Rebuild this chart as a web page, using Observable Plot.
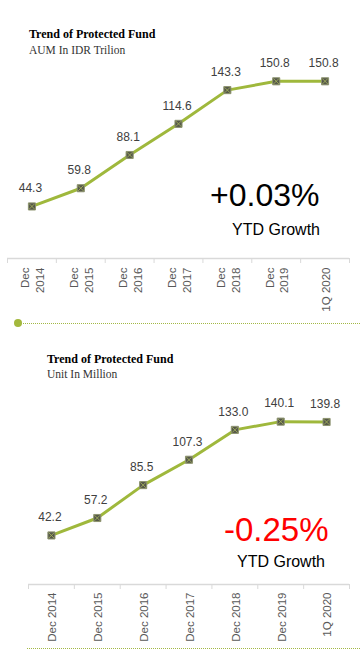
<!DOCTYPE html>
<html><head><meta charset="utf-8">
<script src="https://cdn.jsdelivr.net/npm/d3@7"></script>
<script src="https://cdn.jsdelivr.net/npm/@observablehq/plot@0.6"></script>
<style>
body{margin:0;background:#fff;}
#wrap{position:relative;width:360px;height:650px;overflow:hidden;font-family:"Liberation Sans",Arial,sans-serif;}
.t{position:absolute;white-space:nowrap;line-height:1;}
.title{font-family:"Liberation Serif",serif;font-weight:bold;font-size:12px;color:#000;}
.sub{font-family:"Liberation Serif",serif;font-size:11.5px;color:#333;}
.big{font-family:"Liberation Sans",Arial,sans-serif;}
.ytd{font-family:"Liberation Sans",Arial,sans-serif;font-size:16px;color:#000;}
.plot{position:absolute;left:0;}
.dotline{position:absolute;height:0;border-top:1px dotted #a3b845;}
.gdot{position:absolute;width:8px;height:8px;border-radius:50%;background:#a3b83c;}
</style>
</head><body>
<div id="wrap">
  <div class="t title" style="left:29px;top:28px;">Trend of Protected Fund</div>
  <div class="t sub" style="left:29px;top:45px;">AUM In IDR Trilion</div>
  <div class="t big" style="left:210px;top:179px;font-size:32px;color:#000;">+0.03%</div>
  <div class="t ytd" style="left:232px;top:222px;">YTD Growth</div>
  <div class="gdot" style="left:14px;top:319px;"></div>
  <div class="dotline" style="left:18px;top:323px;width:342px;"></div>

  <div class="t title" style="left:47px;top:353px;">Trend of Protected Fund</div>
  <div class="t sub" style="left:47px;top:369px;">Unit In Million</div>
  <div class="t big" style="left:224px;top:513px;font-size:33px;color:#ff0000;">-0.25%</div>
  <div class="t ytd" style="left:237px;top:554px;">YTD Growth</div>
  <div class="dotline" style="left:27px;top:648px;width:333px;"></div>
</div>
<script>
// ---- data ----
const periods = ["Dec 2014","Dec 2015","Dec 2016","Dec 2017","Dec 2018","Dec 2019","1Q 2020"];
const tickLabelsAUM = ["Dec\n2014","Dec\n2015","Dec\n2016","Dec\n2017","Dec\n2018","Dec\n2019","1Q 2020"];
const tickLabelsUnit = ["Dec 2014","Dec 2015","Dec 2016","Dec 2017","Dec 2018","Dec 2019","1Q 2020"];
const aumValues = [44.3, 59.8, 88.1, 114.6, 143.3, 150.8, 150.8];
const unitValues = [42.2, 57.2, 85.5, 107.3, 133.0, 140.1, 139.8];

const green = "#9fb83c";
const boundaries = d3.range(periods.length + 1).map(k => k - 0.5);

function makeChart(values, labels, opts) {
  const rows = periods.map((p, i) => ({i, p, v: values[i], lab: labels[i]}));
  return Plot.plot({
    width: 360,
    height: opts.height,
    marginTop: opts.marginTop,
    marginBottom: opts.marginBottom,
    marginLeft: opts.marginLeft,
    marginRight: opts.marginRight,
    style: {color: "#d9d9d9", fontFamily: "Liberation Sans, Arial, sans-serif", background: "transparent", overflow: "visible"},
    x: {type: "linear", domain: [-0.5, periods.length - 0.5], ticks: boundaries, tickSize: 5, tickFormat: () => "", label: null},
    y: {domain: [0, 160], axis: null},
    marks: [
      Plot.ruleY([0], {stroke: "#d9d9d9", strokeWidth: 1.5}),
      Plot.line(rows, {x: "i", y: "v", stroke: green, strokeWidth: 3}),
      Plot.dot(rows, {x: "i", y: "v", symbol: "square", r: 4, fill: "#55584a", stroke: "#8e9470", strokeWidth: 1}),
      Plot.dot(rows, {x: "i", y: "v", symbol: "times", r: 2.6, stroke: "#a9b85c", strokeWidth: 0.8}),
      Plot.text(rows, {x: "i", y: "v", text: d => d.v.toFixed(1), dy: -18, dx: -1.5, fill: "#404040", fontSize: 12}),
      Plot.text(rows, {x: "i", y: d => 0, text: "lab", rotate: -90, textAnchor: "end", dy: opts.labelDy, fill: "#595959", fontSize: 11.5, lineHeight: 1.3})
    ]
  });
}

const wrap = document.getElementById("wrap");
const p1 = makeChart(aumValues, tickLabelsAUM, {height: 320, marginTop: 70, marginBottom: 62, marginLeft: 7, marginRight: 11, labelDy: 9});
p1.classList.add("plot"); p1.style.top = "0px";
const p2 = makeChart(unitValues, tickLabelsUnit, {height: 320, marginTop: 68, marginBottom: 66, marginLeft: 28, marginRight: 11, labelDy: 8});
p2.classList.add("plot"); p2.style.top = "330px";
wrap.insertBefore(p2, wrap.firstChild);
wrap.insertBefore(p1, wrap.firstChild);
</script>
</body></html>
